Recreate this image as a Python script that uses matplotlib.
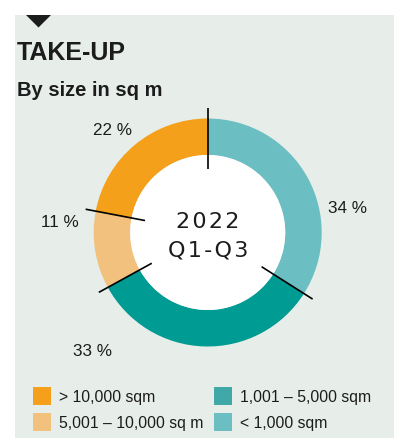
import numpy as np
import matplotlib
matplotlib.use("Agg")
import matplotlib.pyplot as plt
from matplotlib.patches import Rectangle, Polygon, Circle

plt.rcParams['font.family'] = ['Liberation Sans', 'DejaVu Sans']

# data (clockwise from 12 o'clock)
categories = ['< 1,000 sqm', '1,001 – 5,000 sqm', '5,001 – 10,000 sq m', '> 10,000 sqm']
shares = [34, 33, 11, 22]
pct_labels = ['34 %', '33 %', '11 %', '22 %']

slice_colors = ['#6bbec1', '#009b92', '#f2c17e', '#f5a01a']
legend_colors = ['#6bbec1', '#40a8a7', '#f2c17e', '#f5a01a']
ink = '#1c1c1c'
panel = '#e7eeea'

W, H = 394, 439
fig = plt.figure(figsize=(W / 100, H / 100), dpi=100)
fig.patch.set_facecolor('white')

# background axes in pixel coords
bg = fig.add_axes([0, 0, 1, 1])
bg.set_xlim(0, W)
bg.set_ylim(H, 0)
bg.axis('off')
bg.add_patch(Rectangle((15, 16), W - 15, H - 16, color=panel, lw=0))
bg.add_patch(Polygon([(26, 16), (51, 16), (38.5, 28.5)], closed=True, color=ink, lw=0))

bg.text(17, 53, 'TAKE-UP', fontsize=18, fontweight='bold', color=ink, va='center', ha='left')
bg.text(17, 91, 'By size in sq m', fontsize=14.5, fontweight='bold', color=ink, va='center', ha='left')

# legend (order as in reference)
leg_order = [3, 1, 2, 0]
leg_pos = [(33, 388), (214, 388), (33, 414), (214, 414)]
for idx, (x, y) in zip(leg_order, leg_pos):
    bg.add_patch(Rectangle((x, y), 18.5, 18, color=legend_colors[idx], lw=0))
    bg.text(x + 26, y + 9.5, categories[idx], fontsize=11.3, color=ink, va='center', ha='left')

# donut
cx, cy, R = 207.7, 233.5, 114.0
half = 150
ax = fig.add_axes([(cx - half) / W, (H - cy - half) / H, 2 * half / W, 2 * half / H])
ax.axis('off')

ax.pie(shares, colors=slice_colors, startangle=90, counterclock=False, radius=1,
       wedgeprops=dict(width=0.32, linewidth=0))
ax.add_patch(Circle((0, 0), 0.68, color='white', lw=0, zorder=3))
ax.set_xlim(-half / R, half / R)
ax.set_ylim(-half / R, half / R)
ax.set_aspect('equal')

# separator ticks at slice boundaries
bounds = np.cumsum([0] + shares[:-1])
for b in bounds:
    a = np.deg2rad(90 - b * 3.6)
    ax.plot([0.56 * np.cos(a), 1.09 * np.cos(a)], [0.56 * np.sin(a), 1.09 * np.sin(a)],
            color='black', lw=1.2, zorder=4, solid_capstyle='butt')

# percentage labels (angle in degrees, radius)
label_at = [(10.3, 1.25), (-134.3, 1.45), (175.9, 1.30), (132.5, 1.23)]
for txt, (ang, r) in zip(pct_labels, label_at):
    a = np.deg2rad(ang)
    ax.text(r * np.cos(a), r * np.sin(a), txt, fontsize=12.3, color=ink, ha='center', va='center')

hs = '\u200a'
ax.text(0, 0.105, hs.join('2022'), fontsize=16, color=ink, ha='center', va='center', zorder=5,
        family=['DejaVu Sans'])
ax.text(0, -0.145, hs.join('Q1-Q3'), fontsize=16, color=ink, ha='center', va='center', zorder=5,
        family=['DejaVu Sans'])

fig.savefig('out.png', dpi=100, facecolor=fig.get_facecolor())
